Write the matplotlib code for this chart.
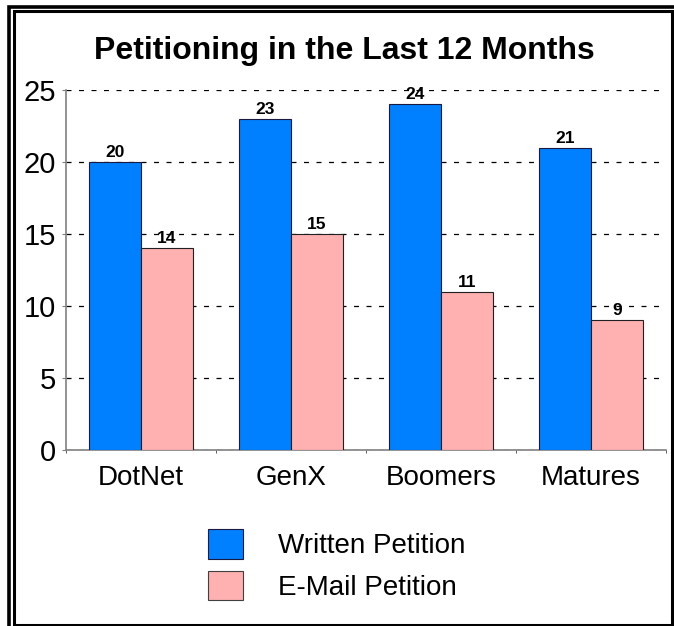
import matplotlib
matplotlib.use("Agg")
import matplotlib.pyplot as plt
from matplotlib.patches import Rectangle, Patch
import numpy as np

categories = ["DotNet", "GenX", "Boomers", "Matures"]
written = [20, 23, 24, 21]
email = [14, 15, 11, 9]
series_names = ["Written Petition", "E-Mail Petition"]
title = "Petitioning in the Last 12 Months"
yticks = [0, 5, 10, 15, 20, 25]

blue = "#0080FF"
pink = "#FFB0B0"

plt.rcParams['font.family'] = ['Liberation Sans', 'DejaVu Sans']

W, H = 674, 626
fig = plt.figure(figsize=(W / 100, H / 100), dpi=100)

ax = fig.add_axes([66 / W, (H - 450) / H, 600 / W, 360 / H])
x = np.arange(len(categories))
bw = 52 / 150
b1 = ax.bar(x - bw / 2, written, bw, color=blue, edgecolor="#1a1a40", linewidth=0.8, zorder=3)
b2 = ax.bar(x + bw / 2, email, bw, color=pink, edgecolor="#202020", linewidth=0.8, zorder=3)

for bars, vals in ((b1, written), (b2, email)):
    for r, v in zip(bars, vals):
        ax.annotate(str(v), (r.get_x() + r.get_width() / 2, v), xytext=(0, 1.5),
                    textcoords="offset points", ha="center", va="bottom",
                    fontsize=12.5, fontweight="bold", zorder=5)

ax.set_xlim(-0.5, len(categories) - 0.5)
ax.set_ylim(0, 25)
ax.set_yticks(yticks)
ax.set_xticks(x)
ax.set_xticklabels(categories, fontsize=20)
ax.set_xticks(np.arange(len(categories) + 1) - 0.5, minor=True)
ax.tick_params(axis="x", which="major", length=0, pad=11)
ax.tick_params(axis="x", which="minor", length=2, direction="out", color="#404040")
ax.tick_params(axis="y", labelsize=21, length=3, color="#808080", pad=4)
ax.yaxis.grid(True, linestyle=(0, (4, 6)), color="black", linewidth=0.9, zorder=0)
ax.set_axisbelow(True)
for s in ("top", "right"):
    ax.spines[s].set_visible(False)
for s in ("left", "bottom"):
    ax.spines[s].set_color("#808080")
    ax.spines[s].set_linewidth(1.2)

fig.text(344 / W, 1 - 51 / H, title, ha="center", va="center", fontsize=23, fontweight="bold")

handles = [Patch(facecolor=blue, edgecolor="#1a1a40", linewidth=0.8),
           Patch(facecolor=pink, edgecolor="#404040", linewidth=0.8)]
fig.legend(handles, series_names, loc="upper left", bbox_to_anchor=(208 / W, 1 - 529 / H),
           frameon=False, fontsize=20, handlelength=1.26, handleheight=1.26,
           handletextpad=1.26, labelspacing=0.42, borderpad=0.0, borderaxespad=0)

# double frame
fig.add_artist(Rectangle((8.5 / W, (H - 640) / H), 680 / W, (640 - 6.5) / H,
                         transform=fig.transFigure, fill=False, edgecolor="black", linewidth=2.6))
fig.add_artist(Rectangle((13.5 / W, (H - 624.5) / H), (672 - 13.5) / W, (624.5 - 11) / H,
                         transform=fig.transFigure, fill=False, edgecolor="black", linewidth=2.2))

fig.savefig("out.png", dpi=100)
